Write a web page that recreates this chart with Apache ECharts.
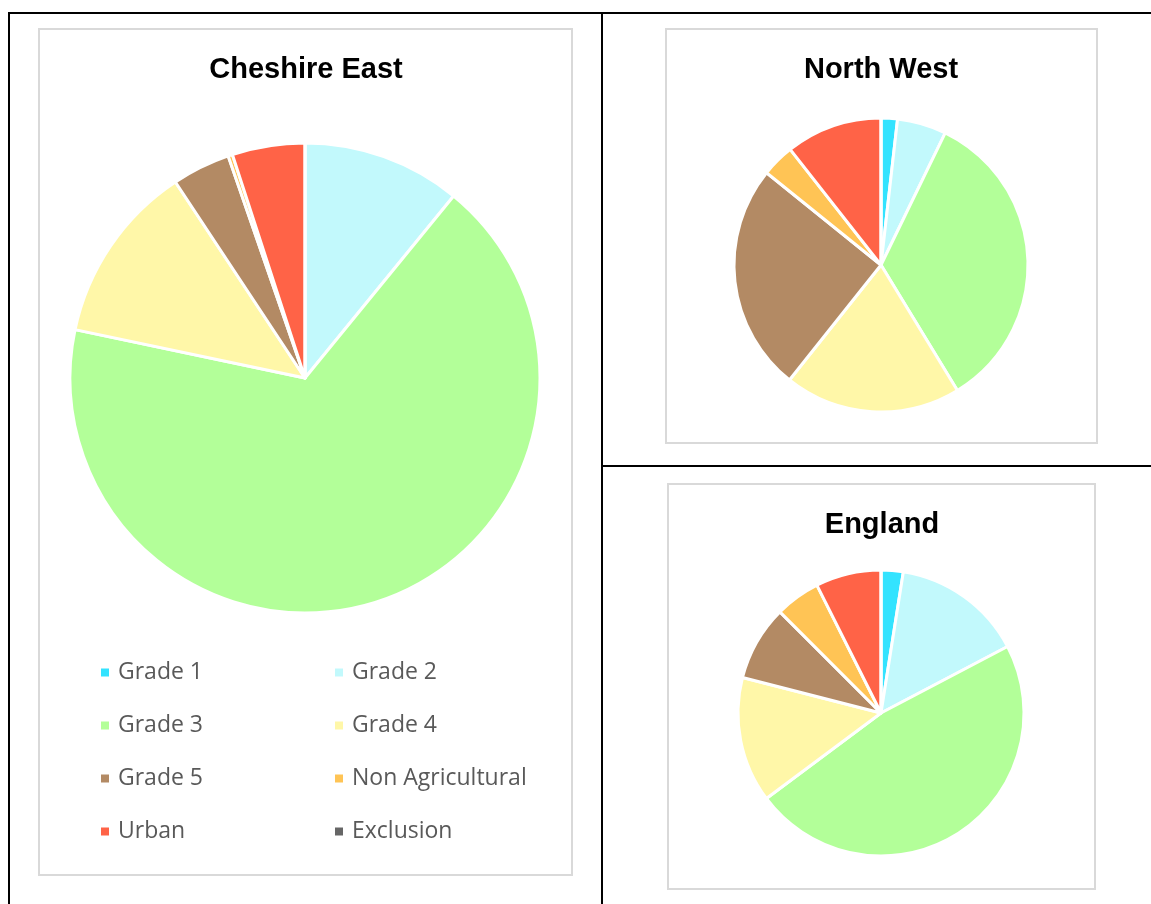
<!DOCTYPE html>
<html>
<head>
<meta charset="utf-8">
<script src="https://cdn.jsdelivr.net/npm/echarts@6/dist/echarts.min.js"></script>
<style>
html,body{margin:0;padding:0;background:#fff;}
#chart{width:1151px;height:904px;}
</style>
</head>
<body>
<div id="chart"></div>
<script>
const categories = ['Grade 1','Grade 2','Grade 3','Grade 4','Grade 5','Non Agricultural','Urban','Exclusion'];
const cheshireEast = [0, 10.9, 67.4, 12.4, 4.0, 0.3, 5.0, 0];
const northWest = [1.8, 5.4, 34.1, 19.4, 25.1, 3.6, 10.6, 0];
const england = [2.5, 14.8, 47.5, 14.2, 8.5, 5.1, 7.4, 0];
const titles = ['Cheshire East', 'North West', 'England'];
const palette = ['#33E3FF','#C2F9FC','#B3FF99','#FFF7A8','#B38A64','#FFC455','#FF6347','#666666'];

const toData = arr => categories.map((c,i)=>({name:c, value:arr[i]}));

const chart = echarts.init(document.getElementById('chart'), null, {renderer:'canvas'});

const pieBase = {
  type:'pie', startAngle:90, clockwise:true,
  label:{show:false}, labelLine:{show:false},
  itemStyle:{borderColor:'#ffffff', borderWidth:3},
  emphasis:{disabled:true},
  silent:true
};

const titleStyle = {fontFamily:'Liberation Sans, Arial, sans-serif', fontWeight:'bold', fontSize:29, color:'#000'};
const legendText = {fontFamily:'Open Sans, sans-serif', fontSize:23, color:'#595959', lineHeight:22, padding:[0,0,0,3]};

const boxStyle = {fill:'none', stroke:'#d9d9d9', lineWidth:2};
const lineStyle = {stroke:'#000', lineWidth:2};

chart.setOption({
  animation:false,
  color: palette,
  title:[
    {text:titles[0], left:301, top:50, textAlign:'center', textStyle:titleStyle},
    {text:titles[1], left:876, top:50, textAlign:'center', textStyle:titleStyle},
    {text:titles[2], left:877, top:505, textAlign:'center', textStyle:titleStyle}
  ],
  legend:[
    {data:['Grade 1','Grade 3','Grade 5','Urban'], orient:'vertical', left:99, top:661, padding:0,
     itemWidth:10, itemHeight:10, itemGap:30, icon:'rect', textStyle:legendText, selectedMode:false},
    {data:['Grade 2','Grade 4','Non Agricultural','Exclusion'], orient:'vertical', left:333, top:661, padding:0,
     itemWidth:10, itemHeight:10, itemGap:30, icon:'rect', textStyle:legendText, selectedMode:false}
  ],
  graphic:[
    {type:'line', shape:{x1:8, y1:13, x2:1151, y2:13}, style:lineStyle, silent:true},
    {type:'line', shape:{x1:9, y1:13, x2:9, y2:904}, style:lineStyle, silent:true},
    {type:'line', shape:{x1:602, y1:13, x2:602, y2:904}, style:lineStyle, silent:true},
    {type:'line', shape:{x1:602, y1:466, x2:1151, y2:466}, style:lineStyle, silent:true},
    {type:'rect', shape:{x:39, y:29, width:533, height:846}, style:boxStyle, silent:true},
    {type:'rect', shape:{x:666, y:29, width:431, height:414}, style:boxStyle, silent:true},
    {type:'rect', shape:{x:668, y:484, width:427, height:405}, style:boxStyle, silent:true}
  ],
  series:[
    Object.assign({}, pieBase, {name:titles[0], center:[305,378], radius:235, data:toData(cheshireEast)}),
    Object.assign({}, pieBase, {name:titles[1], center:[881,265], radius:147, data:toData(northWest)}),
    Object.assign({}, pieBase, {name:titles[2], center:[881,713], radius:143, data:toData(england)})
  ]
});
</script>
</body>
</html>
